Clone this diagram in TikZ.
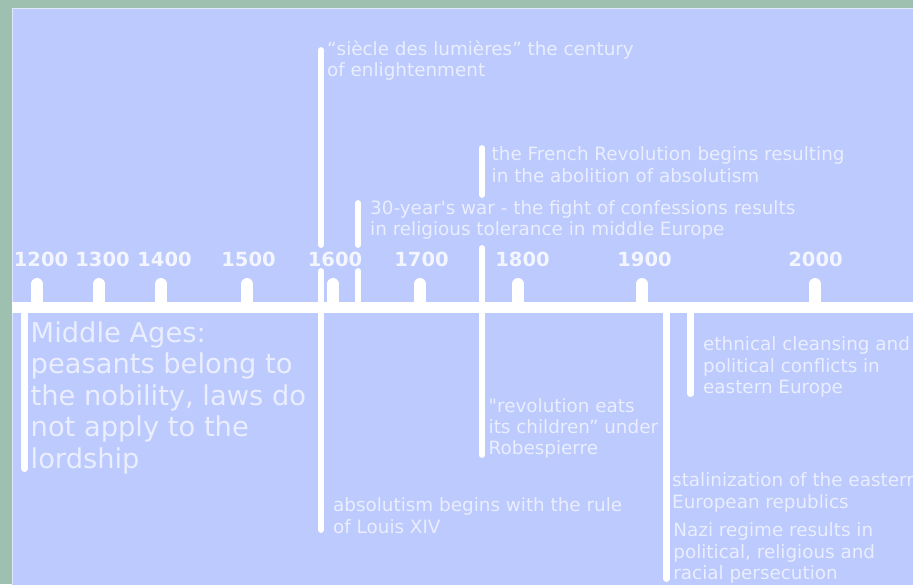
\documentclass[tikz,border=0pt]{standalone}
\usepackage{fontspec}
\newfontfamily\timelinefont{DejaVu Sans}
\definecolor{framegreen}{RGB}{158,192,176}
\definecolor{panelblue}{RGB}{188,202,253}
\definecolor{notewhite}{RGB}{234,238,255}
\definecolor{yearwhite}{RGB}{244,246,255}
\begin{document}
\begin{tikzpicture}[x=1pt, y=-1pt,
    yeartick/.style={white, line width=12pt, line cap=round},
    eventbar/.style={white, line width=6.5pt, line cap=round},
    yearlabel/.style={text=yearwhite, font=\timelinefont\fontsize{19.5}{23}\selectfont\bfseries, anchor=base, inner sep=0pt},
    note/.style={text=notewhite, font=\timelinefont\fontsize{18.35}{21.3}\selectfont, align=left, anchor=north west, inner sep=0pt},
    bignote/.style={note, font=\timelinefont\fontsize{27.3}{31.4}\selectfont}]
    \useasboundingbox (0,0) rectangle (913,584);

    % Frame and panel
    \fill[framegreen] (0,0) rectangle (913,584);
    \fill[panelblue] (12,8) rectangle (914,585);
    \draw[white!55!panelblue, line width=1pt] (12.5,584) -- (12.5,8.5) -- (913,8.5);

    % Main timeline
    \draw[white, line width=11pt] (12,307.5) -- (913,307.5);

    % Century ticks and year labels
    \foreach \x in {37,99,161,247,333,420,518,642,815} {
        \draw[yeartick] (\x,284) -- (\x,302);
    }
    \foreach \yr/\x in {1200/41,1300/102.5,1400/164.5,1500/248.5,1600/335,1700/421.5,1800/522.5,1900/644.5,2000/815.5} {
        \node[yearlabel] (y\yr) at (\x,266) {\yr};
    }

    % Event bars (gaps where the year row crosses them)
    \draw[eventbar] (24.5,307) -- (24.5,468.7);
    \draw[eventbar] (321,50.3) -- (321,244.7);
    \draw[eventbar] (321,271.3) -- (321,529.7);
    \draw[eventbar] (358,203.3) -- (358,244.7);
    \draw[eventbar] (358,271.3) -- (358,307);
    \draw[eventbar] (482,148.3) -- (482,194.7);
    \draw[eventbar] (482,248.3) -- (482,454.7);
    \draw[eventbar] (666.5,307) -- (666.5,578.7);
    \draw[eventbar] (690.5,307) -- (690.5,393.7);

    % Event notes above the timeline
    \node[note] (lumieres) at (327,40.1) {\strut“siècle des lumières” the century\\of enlightenment};
    \node[note] (frenchrev) at (491.5,145.6) {\strut the French Revolution begins resulting\\in the abolition of absolutism};
    \node[note] (thirtyyears) at (370,199.1) {\strut 30-year's war - the fight of confessions results\\in religious tolerance in middle Europe};

    % Event notes below the timeline
    \node[bignote] (middleages) at (30.5,320.3) {\strut Middle Ages:\\peasants belong to\\the nobility, laws do\\not apply to the\\lordship};
    \node[note] (robespierre) at (488.5,397.1) {\strut "revolution eats\\its children” under\\Robespierre};
    \node[note] (louis) at (333,496.8) {\strut absolutism begins with the rule\\of Louis XIV};
    \node[note] (cleansing) at (703,335.8) {\strut ethnical cleansing and\\political conflicts in\\eastern Europe};
    \node[note] (stalin) at (672,471.8) {\strut stalinization of the eastern\\European republics};
    \node[note] (nazi) at (673.2,521.8) {\strut Nazi regime results in\\political, religious and\\racial persecution};
\end{tikzpicture}
\end{document}
